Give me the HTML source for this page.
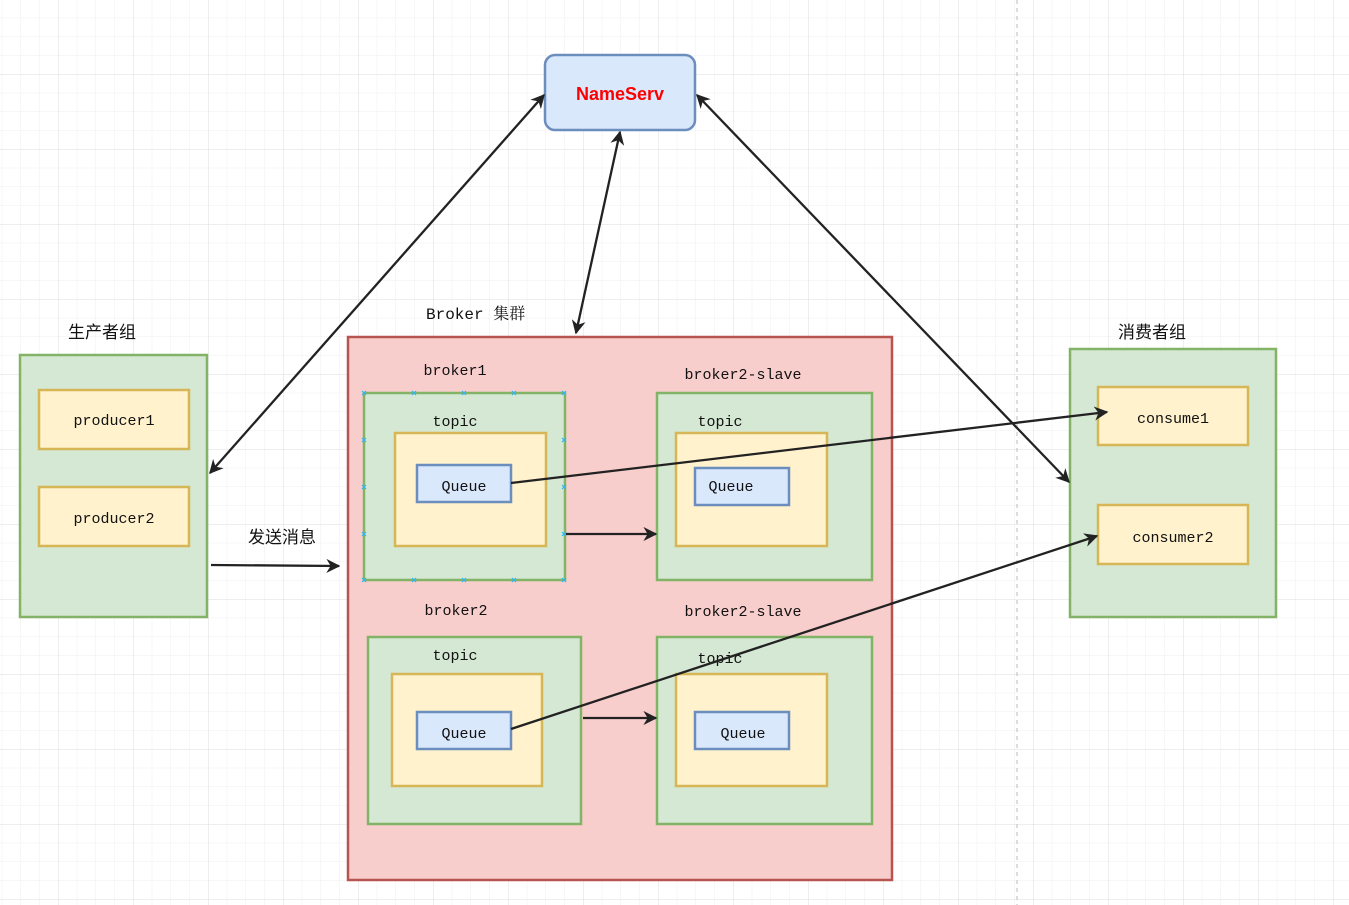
<!DOCTYPE html>
<html><head><meta charset="utf-8"><style>
html,body{margin:0;padding:0;background:#fff;}
svg{display:block}
text{font-family:"Liberation Mono","Noto Serif CJK SC",monospace;font-size:15px;fill:#111;}
.cj{font-family:"Liberation Sans","Noto Sans CJK SC",sans-serif;font-size:17px;}
rect{stroke-width:2.5}
</style></head><body>
<svg width="1349" height="905" viewBox="0 0 1349 905" xmlns="http://www.w3.org/2000/svg">
<defs>
<pattern id="mn" x="1.75" y="17.75" width="18.75" height="18.75" patternUnits="userSpaceOnUse">
<path d="M0 0H18.75M0 0V18.75" stroke="#efefef" stroke-width="1" fill="none"/></pattern>
<pattern id="mj" x="58" y="74" width="75" height="75" patternUnits="userSpaceOnUse">
<path d="M0 0H75M0 0V75" stroke="#dedede" stroke-width="1" fill="none"/></pattern>
<marker id="a" viewBox="0 0 10 10" refX="9" refY="5" markerWidth="14" markerHeight="14" markerUnits="userSpaceOnUse" orient="auto-start-reverse">
<path d="M0 0L10 5L0 10L3 5Z" fill="#222"/></marker>
</defs>
<rect width="1349" height="905" fill="url(#mn)" style="stroke:none"/>
<rect width="1349" height="905" fill="url(#mj)" style="stroke:none"/>
<line x1="1017" y1="0" x2="1017" y2="905" stroke="#bbb" stroke-dasharray="4,4"/>

<text class="cj" x="68" y="338">生产者组</text>
<rect x="20" y="355" width="187" height="262" fill="#d5e8d4" stroke="#82b366"/>
<rect x="39" y="390" width="150" height="59" fill="#fff2cc" stroke="#d6b656"/>
<text x="114" y="425" text-anchor="middle">producer1</text>
<rect x="39" y="487" width="150" height="59" fill="#fff2cc" stroke="#d6b656"/>
<text x="114" y="523" text-anchor="middle">producer2</text>

<text class="cj" x="1118" y="338">消费者组</text>
<rect x="1070" y="349" width="206" height="268" fill="#d5e8d4" stroke="#82b366"/>
<rect x="1098" y="387" width="150" height="58" fill="#fff2cc" stroke="#d6b656"/>
<text x="1173" y="423" text-anchor="middle">consume1</text>
<rect x="1098" y="505" width="150" height="59" fill="#fff2cc" stroke="#d6b656"/>
<text x="1173" y="542" text-anchor="middle">consumer2</text>

<rect x="545" y="55" width="150" height="75" rx="10" fill="#dae8fc" stroke="#6c8ebf"/>
<text x="620" y="100" text-anchor="middle" style="font-family:'Liberation Sans',sans-serif;font-weight:bold;font-size:18px;fill:#ff0000">NameServ</text>

<text x="426" y="319" style="font-size:16px">Broker 集群</text>
<rect x="348" y="337" width="544" height="543" fill="#f8cecc" stroke="#b85450"/>

<text x="455" y="375" text-anchor="middle">broker1</text>
<rect x="364" y="393" width="201" height="187" fill="#d5e8d4" stroke="#82b366"/>
<text x="455" y="426" text-anchor="middle">topic</text>
<rect x="395" y="433" width="151" height="113" fill="#fff2cc" stroke="#d6b656"/>
<rect x="417" y="465" width="94" height="37" fill="#dae8fc" stroke="#6c8ebf"/>
<text x="464" y="491" text-anchor="middle">Queue</text>

<text x="743" y="379" text-anchor="middle">broker2-slave</text>
<rect x="657" y="393" width="215" height="187" fill="#d5e8d4" stroke="#82b366"/>
<text x="720" y="426" text-anchor="middle">topic</text>
<rect x="676" y="433" width="151" height="113" fill="#fff2cc" stroke="#d6b656"/>
<rect x="695" y="468" width="94" height="37" fill="#dae8fc" stroke="#6c8ebf"/>
<text x="731" y="491" text-anchor="middle">Queue</text>

<text x="456" y="615" text-anchor="middle">broker2</text>
<rect x="368" y="637" width="213" height="187" fill="#d5e8d4" stroke="#82b366"/>
<text x="455" y="660" text-anchor="middle">topic</text>
<rect x="392" y="674" width="150" height="112" fill="#fff2cc" stroke="#d6b656"/>
<rect x="417" y="712" width="94" height="37" fill="#dae8fc" stroke="#6c8ebf"/>
<text x="464" y="738" text-anchor="middle">Queue</text>

<text x="743" y="616" text-anchor="middle">broker2-slave</text>
<rect x="657" y="637" width="215" height="187" fill="#d5e8d4" stroke="#82b366"/>
<rect x="676" y="674" width="151" height="112" fill="#fff2cc" stroke="#d6b656"/>
<text x="720" y="663" text-anchor="middle">topic</text>
<rect x="695" y="712" width="94" height="37" fill="#dae8fc" stroke="#6c8ebf"/>
<text x="743" y="738" text-anchor="middle">Queue</text>

<g stroke="#29b6f6" stroke-width="1.2">
<path d="M362 391l4 4m0-4l-4 4M412 391l4 4m0-4l-4 4M462 391l4 4m0-4l-4 4M512 391l4 4m0-4l-4 4M562 391l4 4m0-4l-4 4
M362 578l4 4m0-4l-4 4M412 578l4 4m0-4l-4 4M462 578l4 4m0-4l-4 4M512 578l4 4m0-4l-4 4M562 578l4 4m0-4l-4 4
M362 438l4 4m0-4l-4 4M362 485l4 4m0-4l-4 4M362 532l4 4m0-4l-4 4
M562 438l4 4m0-4l-4 4M562 485l4 4m0-4l-4 4M562 532l4 4m0-4l-4 4"/>
</g>

<g stroke="#222" stroke-width="2.3" fill="none">
<line x1="210" y1="473" x2="544" y2="95" marker-start="url(#a)" marker-end="url(#a)"/>
<line x1="576" y1="333" x2="620" y2="132" marker-start="url(#a)" marker-end="url(#a)"/>
<line x1="697" y1="95" x2="1069" y2="482" marker-start="url(#a)" marker-end="url(#a)"/>
<line x1="211" y1="565" x2="339" y2="566" marker-end="url(#a)"/>
<line x1="566" y1="534" x2="656" y2="534" marker-end="url(#a)"/>
<line x1="583" y1="718" x2="656" y2="718" marker-end="url(#a)"/>
<line x1="511" y1="483" x2="1107" y2="412" marker-end="url(#a)"/>
<line x1="511" y1="729" x2="1097" y2="536" marker-end="url(#a)"/>
</g>
<text class="cj" x="248" y="543">发送消息</text>
</svg>
</body></html>
